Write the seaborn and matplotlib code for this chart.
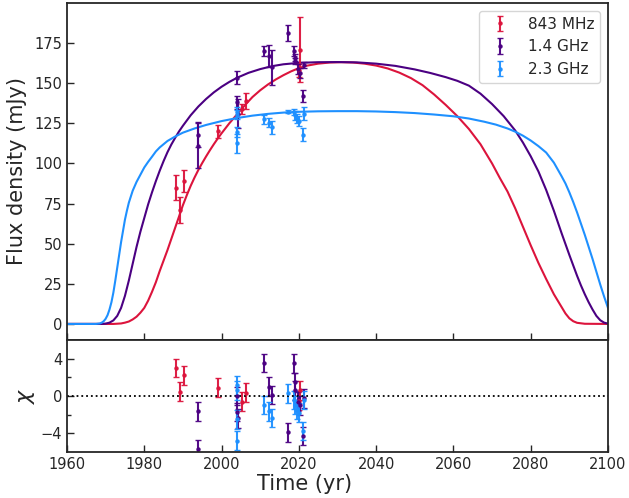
import numpy as np
import pandas as pd
import matplotlib
matplotlib.use("Agg")
import matplotlib.pyplot as plt
import seaborn as sns

# model curves (year, mJy)
red_t = [1960, 1972, 1974, 1975, 1976, 1977, 1978, 1979, 1980, 1981, 1982, 1983, 1984, 1985,
         1986, 1987, 1988, 1989, 1990, 1991, 1992, 1993, 1994, 1995, 1996, 1997, 1998, 1999,
         2000, 2002, 2004, 2006, 2008, 2010, 2012, 2014, 2016, 2018, 2020, 2022, 2025, 2028,
         2031, 2034, 2037, 2040, 2043, 2046, 2049, 2052, 2055, 2058, 2061, 2064, 2067, 2070,
         2072, 2074, 2076, 2078, 2080, 2082, 2084, 2086, 2087, 2088, 2089, 2090, 2091, 2092,
         2094, 2100]
red_s = [0, 0, 0.3, 0.8, 1.5, 2.8, 4.5, 7, 10, 14.5, 20, 26, 33, 39.5,
         46, 53, 60, 67, 74, 80.2, 86, 91.2, 96, 100.3, 104.4, 108.3, 112, 115.5,
         118.8, 125, 130.6, 136.2, 141.4, 145.6, 149.2, 152.3, 155, 157.4, 159.4, 160.9, 162.2, 162.9,
         163.1, 162.9, 162.2, 161, 159.2, 156.6, 153.2, 148.8, 143, 136.5, 129.5, 121.5, 112, 100,
         91, 82.5, 72, 60.5, 49, 38, 28, 18.5, 14.5, 10.5, 6.5, 3.5, 1.7, 0.7,
         0.1, 0]
pur_t = [1960, 1969, 1970, 1971, 1972, 1973, 1974, 1975, 1976, 1977, 1978, 1979, 1980, 1981,
         1982, 1983, 1984, 1985, 1986, 1987, 1988, 1989, 1990, 1992, 1994, 1996, 1998, 2000,
         2002, 2004, 2007, 2010, 2013, 2016, 2020, 2025, 2030, 2035, 2040, 2045, 2050, 2054,
         2058, 2061, 2064, 2067, 2070, 2073, 2076, 2078, 2080, 2082, 2084, 2086, 2088, 2090,
         2091, 2092, 2093, 2094, 2095, 2096, 2097, 2098, 2099, 2100]
pur_s = [0, 0, 0.2, 0.8, 2.2, 5, 10, 17.5, 27, 37.5, 48, 57.5, 66, 74.5,
         82, 89, 95.5, 101.5, 107, 111.8, 116, 120, 123.5, 130, 135.5, 140.2, 144.3, 147.8,
         150.8, 153.4, 156.5, 158.8, 160.6, 161.8, 162.7, 163.1, 163.2, 163, 162.2, 160.8, 158.6, 156.4,
         153.8, 151.5, 148.5, 143.5, 137, 129.5, 120.5, 113, 104.5, 95, 83.5, 70.5, 56.5, 43,
         36.5, 30, 24, 18.5, 13.5, 9, 5, 2.3, 0.8, 0.2]
blu_t = [1960, 1967.5, 1968.5, 1969, 1969.5, 1970, 1970.5, 1971, 1971.5, 1972, 1972.5, 1973,
         1973.5, 1974, 1974.5, 1975, 1975.5, 1976, 1977, 1978, 1979, 1980, 1981, 1982, 1983,
         1984, 1986, 1988, 1990, 1993, 1996, 2000, 2004, 2008, 2012, 2016, 2020, 2025, 2030,
         2035, 2040, 2045, 2050, 2055, 2060, 2064, 2068, 2071, 2074, 2076, 2078, 2080, 2082,
         2084, 2086, 2088, 2089, 2090, 2091, 2092, 2093, 2094, 2095, 2096, 2097, 2098, 2099,
         2100]
blu_s = [0, 0, 0.3, 0.8, 1.7, 3.2, 5.5, 9, 13.5, 19.5, 27, 35,
         43, 51, 58, 65, 70.5, 75.5, 83, 88.5, 93, 97.5, 101, 104.2, 107.5,
         110, 114, 116.8, 119.2, 121.8, 124, 126.4, 128.3, 129.8, 130.9, 131.7, 132.2, 132.5, 132.6,
         132.6, 132.4, 132, 131.4, 130.5, 129.4, 128, 126, 124.2, 121.8, 119.8, 117.3, 114.3, 110.8,
         106.8, 100.5, 92, 87.5, 82, 76, 69.5, 62.5, 55.5, 48, 40.5, 32.5, 24.5, 17,
         10]

# measurements: year, flux (mJy), error
red_yr = [1988.3, 1989.3, 1990.2, 1999.2, 2005.2, 2006.3, 2020.1, 2020.3]
red_fx = [85, 71, 89, 120, 134, 139, 158, 171]
red_er = [8, 8, 7, 4, 3, 5, 4, 20]
red_chi = [3.0, 0.45, 2.2, 0.9, -0.6, 0.35, -0.5, 0.6]

pur_yr = [1994.0, 1994.0, 2004.1, 2004.0, 2004.3, 2010.9, 2012.4, 2013.0, 2017.3, 2018.7,
          2018.9, 2019.1, 2019.9, 2020.2, 2021.3, 2021.1]
pur_fx = [118, 111, 153.5, 138, 131, 170, 167, 160, 181.5, 170,
          166, 164, 159, 156.5, 161.5, 142]
pur_er = [8, 14, 4, 4, 9, 3, 7, 11, 5, 3,
          2, 2, 3, 3, 2, 4]
pur_chi = [-1.65, -5.7, 0.0, -1.7, -2.4, 3.55, 1.0, 0.1, -3.9, 3.5,
           1.5, 0.6, -0.6, -1.0, -0.25, -4.3]

blu_yr = [2004.1, 2004.1, 2004.1, 2004.1, 2011.0, 2012.4, 2013.0, 2017.3, 2018.7, 2019.1,
          2019.4, 2020.0, 2021.3, 2021.0]
blu_fx = [132, 130.5, 119.5, 112.5, 127.5, 125.5, 122.5, 132.3, 132, 130,
          128, 126.5, 131, 118]
blu_er = [3, 3, 3, 6, 3, 3, 4, 1, 2, 3,
          3, 3, 4, 4]
blu_chi = [1.15, 0.6, -2.5, -4.8, -0.95, -1.65, -2.35, 0.28, -0.42, -0.95,
           -1.47, -1.8, -0.42, -3.75]

labels = ["843 MHz", "1.4 GHz", "2.3 GHz"]
colors = ["crimson", "indigo", "dodgerblue"]

sns.set_style("ticks")
plt.rcParams['font.family'] = ['DejaVu Sans']

models = pd.concat([
    pd.DataFrame({"t": red_t, "S": red_s, "band": labels[0]}),
    pd.DataFrame({"t": pur_t, "S": pur_s, "band": labels[1]}),
    pd.DataFrame({"t": blu_t, "S": blu_s, "band": labels[2]}),
])

fig = plt.figure(figsize=(6.29, 4.98), dpi=100)
ax1 = fig.add_axes([0.1065, 0.3173, 0.8601, 0.6767])
ax2 = fig.add_axes([0.1065, 0.0924, 0.8601, 0.2249], sharex=ax1)

sns.lineplot(data=models, x="t", y="S", hue="band", palette=colors, ax=ax1,
             legend=False, lw=1.5, sort=False)

meas = [(red_yr, red_fx, red_er, red_chi), (pur_yr, pur_fx, pur_er, pur_chi),
        (blu_yr, blu_fx, blu_er, blu_chi)]
for (yr, fx, er, chi), lab, c in zip(meas, labels, colors):
    ax1.errorbar(yr, fx, yerr=er, fmt="o", ms=2.2, color=c, capsize=2, elinewidth=1.5,
                 capthick=1, label=lab, alpha=0.95)
    ax2.errorbar(yr, chi, yerr=np.ones(len(chi)), fmt="o", ms=2.2, color=c, capsize=2,
                 elinewidth=1.5, capthick=1, alpha=0.95)

ax2.axhline(0, color="black", ls=":", lw=1.3)

ax1.set_xlim(1960, 2100)
ax1.set_ylim(-10, 200)
ax1.set_yticks([0, 25, 50, 75, 100, 125, 150, 175])
ax1.set_xticks(range(1960, 2101, 20))
ax1.tick_params(labelbottom=False)
ax2.set_ylim(-6, 6)
ax2.set_yticks([-4, 0, 4])
ax2.set_yticks([-2, 2], minor=True)

for ax in (ax1, ax2):
    ax.tick_params(direction="in", length=5, width=1, labelsize=10.5)
    ax.tick_params(which="minor", direction="in", length=3, width=1)
    for sp in ax.spines.values():
        sp.set_linewidth(1.3)
        sp.set_visible(True)

ax1.set_xlabel("")
ax1.set_ylabel("Flux density (mJy)", fontsize=15)
ax1.yaxis.set_label_coords(-0.074, 0.5)
ax2.set_ylabel(r"$\chi$", fontsize=16)
ax2.yaxis.set_label_coords(-0.055, 0.5)
ax2.set_xlabel("Time (yr)", fontsize=15, labelpad=1)
ax2.xaxis.set_label_coords(0.44, -0.2)

ax1.legend(loc="upper right", fontsize=11)

fig.savefig("out.png", dpi=100)
